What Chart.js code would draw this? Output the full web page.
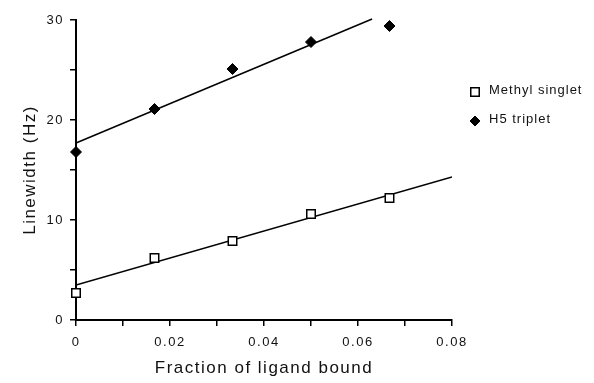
<!DOCTYPE html>
<html>
<head>
<meta charset="utf-8">
<script src="https://cdn.jsdelivr.net/npm/chart.js@4/dist/chart.umd.min.js"></script>
<style>
  html, body { margin: 0; padding: 0; background: #fff; }
  #wrap { width: 594px; height: 383px; }
</style>
</head>
<body>
<div id="wrap"><canvas id="myChart" width="594" height="383"></canvas></div>
<script>
// values
var fractionBound = [0, 0.0167, 0.0333, 0.05, 0.0667];
var methylSinglet = [2.7, 6.2, 7.9, 10.6, 12.2];
var h5Triplet = [16.8, 21.1, 25.1, 27.8, 29.4];

// fitted lines, end points as drawn
var methylFitX = [0, 0.08];
var methylFitY = [3.5, 14.3];
var h5FitX = [0, 0.063];
var h5FitY = [17.7, 30.1];

var xTickLabels = [0, 0.02, 0.04, 0.06, 0.08];
var yTickLabels = [0, 10, 20, 30];

function toPoints(xs, ys) {
  return xs.map(function(x, i) { return { x: x, y: ys[i] }; });
}

// wider letter spacing like the typeset figure
var spacingPlugin = {
  id: 'spacing',
  beforeDraw: function(chart) {
    chart.ctx.letterSpacing = '1.5px';
  }
};

// legend to the right of the plot
var sideLegend = {
  id: 'sideLegend',
  afterDraw: function(chart) {
    var ctx = chart.ctx;
    var rows = [{ ds: 0, y: 92, r: 6 }, { ds: 1, y: 121, r: 5 }];
    ctx.save();
    ctx.letterSpacing = '1px';
    ctx.font = '13px "Liberation Sans", Arial, sans-serif';
    ctx.textBaseline = 'middle';
    rows.forEach(function(row) {
      var ds = chart.data.datasets[row.ds];
      ctx.fillStyle = ds.backgroundColor;
      ctx.strokeStyle = ds.borderColor;
      ctx.lineWidth = ds.borderWidth;
      Chart.helpers.drawPoint(ctx, {
        pointStyle: ds.pointStyle, radius: row.r, rotation: 0, borderWidth: ds.borderWidth
      }, 475, row.y);
      ctx.fillStyle = '#111';
      ctx.fillText(ds.label, 489, row.y - 2);
    });
    ctx.restore();
  }
};

var ctx = document.getElementById('myChart').getContext('2d');
var myChart = new Chart(ctx, {
  type: 'scatter',
  data: {
    datasets: [{
      label: 'Methyl singlet',
      data: toPoints(fractionBound, methylSinglet),
      pointStyle: 'rect',
      pointRadius: 6,
      backgroundColor: '#fff',
      borderColor: '#000',
      borderWidth: 1.5,
      clip: false,
      order: 0
    }, {
      label: 'H5 triplet',
      data: toPoints(fractionBound, h5Triplet),
      pointStyle: 'rectRot',
      pointRadius: 5.5,
      backgroundColor: '#000',
      borderColor: '#000',
      borderWidth: 1,
      clip: false,
      order: 0
    }, {
      type: 'line',
      label: 'methyl fit',
      data: toPoints(methylFitX, methylFitY),
      borderColor: '#000',
      borderWidth: 1.5,
      pointRadius: 0,
      fill: false,
      order: 1
    }, {
      type: 'line',
      label: 'h5 fit',
      data: toPoints(h5FitX, h5FitY),
      borderColor: '#000',
      borderWidth: 1.5,
      pointRadius: 0,
      fill: false,
      clip: false,
      order: 1
    }]
  },
  options: {
    responsive: false,
    animation: false,
    layout: { padding: { top: 20, right: 142, left: 0, bottom: 0 } },
    plugins: {
      legend: { display: false },
      tooltip: { enabled: false }
    },
    scales: {
      x: {
        type: 'linear',
        min: 0,
        max: 0.08,
        afterFit: function(scale) { scale.height = 63; },
        border: { display: true, color: '#000', width: 2 },
        grid: { drawOnChartArea: false, drawTicks: true, tickLength: 6, tickColor: '#000', lineWidth: 1.5 },
        ticks: {
          stepSize: 0.01,
          padding: 9,
          color: '#111',
          font: { family: '"Liberation Sans", Arial, sans-serif', size: 13 },
          maxRotation: 0,
          autoSkip: false,
          callback: function(v) {
            var r = Math.round(v * 100) / 100;
            if (xTickLabels.indexOf(r) < 0) return '';
            return r === 0 ? '0' : r.toFixed(2);
          }
        },
        title: {
          display: true,
          text: 'Fraction of ligand bound',
          color: '#111',
          font: { family: '"Liberation Sans", Arial, sans-serif', size: 17 },
          padding: { top: 0, bottom: 4 }
        }
      },
      y: {
        min: 0,
        max: 30,
        afterFit: function(scale) { scale.width = 76; },
        border: { display: true, color: '#000', width: 2 },
        grid: { drawOnChartArea: false, drawTicks: true, tickLength: 6, tickColor: '#000', lineWidth: 1.5 },
        ticks: {
          stepSize: 5,
          padding: 6,
          color: '#111',
          font: { family: '"Liberation Sans", Arial, sans-serif', size: 13 },
          autoSkip: false,
          callback: function(v) {
            return yTickLabels.indexOf(v) < 0 ? '' : String(v);
          }
        },
        title: {
          display: true,
          text: 'Linewidth (Hz)',
          color: '#111',
          font: { family: '"Liberation Sans", Arial, sans-serif', size: 17 },
          padding: { top: 20, bottom: 0 }
        }
      }
    }
  },
  plugins: [spacingPlugin, sideLegend]
});
</script>
</body>
</html>
